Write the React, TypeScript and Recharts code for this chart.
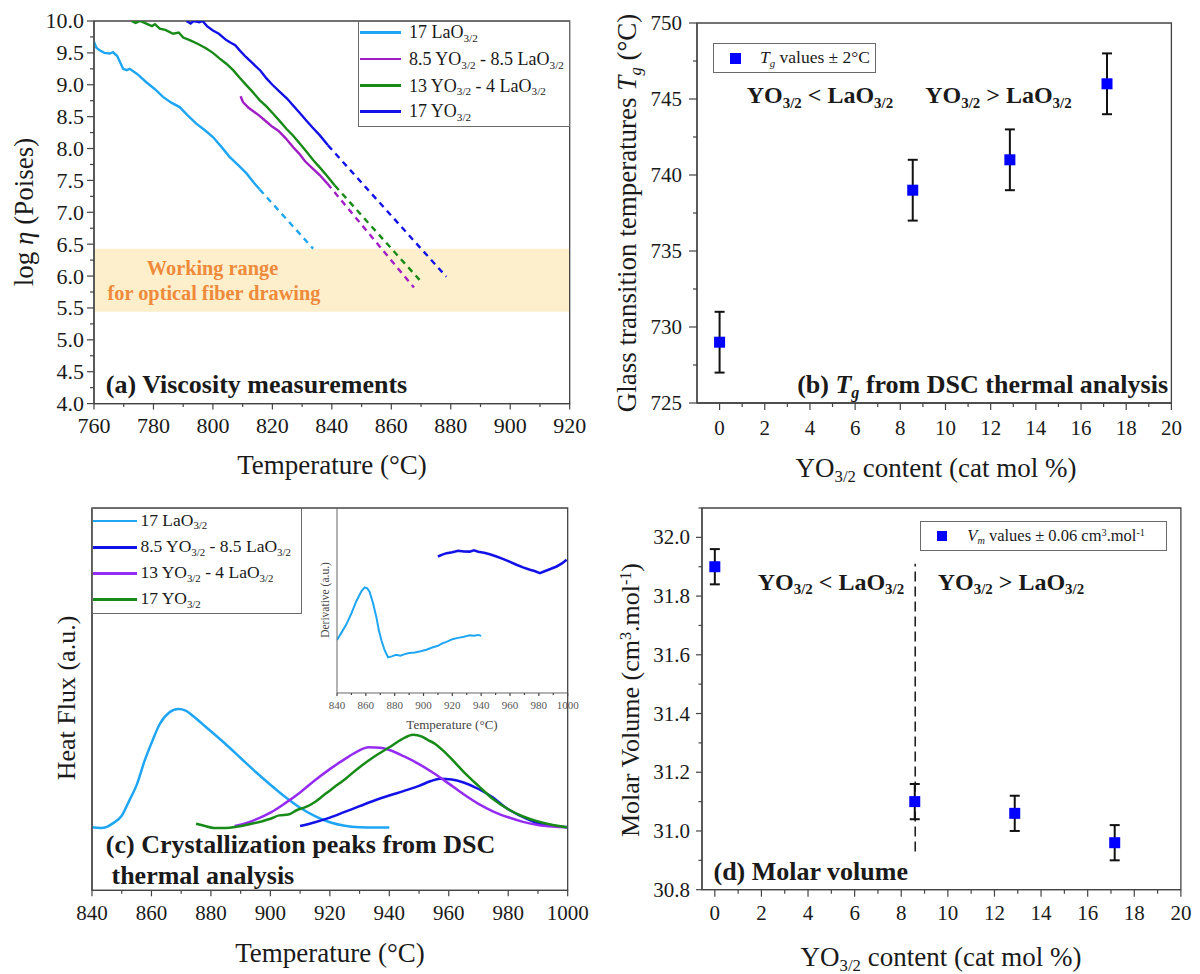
import React from 'react';
import { LineChart, Line, XAxis, YAxis, ReferenceArea, ReferenceLine, ScatterChart, Scatter, ErrorBar } from 'recharts';

const FONT = '"Liberation Serif", "Times New Roman", Times, serif';
const AX = '#444444';
const INK = '#1a1a1a';

// ---------- Panel (a) viscosity: [temperature °C, log eta]
const aLaSolid: [number, number][] = [[760, 9.67], [760.8, 9.58], [761.9, 9.54], [763.5, 9.5], [765.3, 9.49], [766.4, 9.51], [767.8, 9.45], [769.8, 9.25], [771, 9.23], [772, 9.25], [774.5, 9.17], [777.6, 9.04], [780.5, 8.93], [783.2, 8.81], [786, 8.72], [788.8, 8.65], [791.5, 8.52], [794.4, 8.39], [797.2, 8.29], [800, 8.18], [802.8, 8.03], [805.6, 7.87], [808.5, 7.74], [811.3, 7.61], [813.5, 7.48], [815.7, 7.36]];
const aLaDash: [number, number][] = [[815.7, 7.36], [833.7, 6.43]];
const aMixSolid: [number, number][] = [[809.3, 8.82], [810.1, 8.73], [812, 8.64], [815.5, 8.52], [818, 8.42], [820, 8.34], [822, 8.28], [824.5, 8.16], [827, 8.02], [829, 7.92], [831, 7.8], [833.5, 7.69], [836, 7.58], [838.5, 7.45]];
const aMixDash: [number, number][] = [[838.5, 7.45], [867.6, 5.82]];
const aY13Solid: [number, number][] = [[772.6, 10.0], [774, 9.97], [775.5, 10.0], [777.6, 9.96], [779.5, 9.92], [780.5, 9.95], [782.1, 9.88], [784, 9.86], [786.6, 9.8], [788.5, 9.82], [790, 9.74], [792.2, 9.7], [795, 9.64], [797.8, 9.57], [800, 9.5], [802.3, 9.41], [804.5, 9.33], [806.8, 9.23], [809, 9.11], [811.3, 8.99], [813.5, 8.88], [815.7, 8.76], [818, 8.66], [820.2, 8.55], [822.5, 8.43], [824.7, 8.31], [827, 8.2], [829.2, 8.08], [831.5, 7.95], [833.7, 7.82], [836, 7.7], [838.2, 7.58], [841, 7.42]];
const aY13Dash: [number, number][] = [[841, 7.42], [869.5, 5.94]];
const aY17Solid: [number, number][] = [[791.1, 10.0], [792.5, 9.96], [793.5, 10.0], [795.5, 9.98], [796.5, 10.0], [798, 9.92], [800, 9.85], [802, 9.8], [804.5, 9.7], [806, 9.66], [807.5, 9.62], [809, 9.54], [811, 9.44], [813.5, 9.33], [816, 9.22], [818, 9.1], [820, 9.0], [822.5, 8.89], [825, 8.78], [826.9, 8.68], [829, 8.57], [831.4, 8.44], [833.5, 8.33], [835.9, 8.21], [838.7, 8.05]];
const aY17Dash: [number, number][] = [[838.7, 8.05], [878.5, 5.99]];
const workingRange = [5.44, 6.43];
const aXTicks = [760, 770, 780, 790, 800, 810, 820, 830, 840, 850, 860, 870, 880, 890, 900, 910, 920];
const aXMajor = [760, 780, 800, 820, 840, 860, 880, 900, 920];
const aYTicks = [4, 4.25, 4.5, 4.75, 5, 5.25, 5.5, 5.75, 6, 6.25, 6.5, 6.75, 7, 7.25, 7.5, 7.75, 8, 8.25, 8.5, 8.75, 9, 9.25, 9.5, 9.75, 10];
const aYMajor = [4, 4.5, 5, 5.5, 6, 6.5, 7, 7.5, 8, 8.5, 9, 9.5, 10];

// ---------- Panel (b) Tg
const tgX = [0, 8.55, 12.85, 17.15];
const tgY = [729, 739, 741, 746];
const tgErr = [2, 2, 2, 2];
const bXTicks = [0, 1, 2, 3, 4, 5, 6, 7, 8, 9, 10, 11, 12, 13, 14, 15, 16, 17, 18, 19, 20];
const bXMajor = [0, 2, 4, 6, 8, 10, 12, 14, 16, 18, 20];
const bYTicks = [725, 727.5, 730, 732.5, 735, 737.5, 740, 742.5, 745, 747.5, 750];
const bYMajor = [725, 730, 735, 740, 745, 750];

// ---------- Panel (c) DSC heat flux (a.u.)
const cLa: [number, number][] = [[840, 16.5], [843, 16.3], [845, 16.6], [847, 17.5], [850, 19.5], [852.5, 23.4], [855, 27.5], [857.7, 33.9], [860, 38.5], [862.8, 43.5], [866, 46.5], [869, 47.4], [871.5, 47.0], [874, 45.6], [877, 43.6], [880, 41.6], [885, 38.2], [890, 34.6], [895, 31.0], [900, 27.6], [905, 24.4], [910, 21.6], [915, 19.4], [920, 17.8], [925, 16.9], [930, 16.5], [935, 16.4], [940, 16.4]];
const cMix: [number, number][] = [[910, 16.8], [915, 17.8], [920, 19.0], [925, 20.5], [930, 22.0], [935, 23.5], [940, 24.8], [945, 26.0], [950, 27.3], [954, 28.6], [957, 29.2], [961, 29.0], [965, 28.2], [970, 26.5], [975, 24.2], [979, 21.7], [984, 19.5], [989, 17.8], [994, 17.0], [1000, 16.5]];
const cY13: [number, number][] = [[888, 16.8], [892, 17.6], [896, 18.8], [900, 20.3], [905, 22.8], [910, 25.6], [915, 28.8], [920, 31.7], [925, 34.3], [929, 36.2], [933, 37.4], [937, 37.3], [940, 36.7], [945, 35.0], [950, 33.0], [955, 30.6], [960, 27.9], [965, 25.1], [970, 22.6], [975, 20.6], [980, 19.1], [985, 17.9], [990, 17.1], [995, 16.7], [1000, 16.5]];
const cY17: [number, number][] = [[875, 17.4], [878, 16.8], [881, 16.3], [885, 16.3], [889, 16.7], [893, 17.3], [897, 18.0], [900, 18.7], [903, 19.6], [906, 19.8], [909, 21.0], [912, 21.8], [915, 23.1], [918, 24.9], [921, 26.7], [925, 29.0], [930, 32.2], [935, 35.0], [940, 37.4], [944, 39.4], [948, 40.7], [951, 40.2], [953, 39.3], [955, 38.5], [958, 36.6], [961, 34.3], [965, 31.0], [970, 27.3], [975, 23.8], [980, 21.2], [985, 19.3], [990, 18.0], [995, 17.1], [1000, 16.5]];
const cXTicks = [840, 850, 860, 870, 880, 890, 900, 910, 920, 930, 940, 950, 960, 970, 980, 990, 1000];
const cXMajor = [840, 860, 880, 900, 920, 940, 960, 980, 1000];

// ---------- Inset derivative (a.u.)
const insLa: [number, number][] = [[840, 28.6], [843, 32.5], [846.5, 37.1], [850, 43.0], [853.4, 49.6], [856.9, 55.0], [859.2, 57.1], [861, 56.6], [862.7, 54.5], [865, 48.5], [867.3, 41.0], [869, 34.0], [870.8, 28.5], [873.1, 23.0], [875.4, 19.3], [878, 19.8], [881, 20.6], [884, 20.2], [887, 21.0], [890, 21.6], [894, 21.9], [898, 22.6], [902, 23.4], [906, 24.6], [910, 25.5], [913, 26.8], [916, 27.6], [920, 29.1], [924, 29.8], [928, 30.4], [932, 31.2], [935, 31.0], [938, 31.4], [940, 30.9]];
const insMix: [number, number][] = [[910, 73.8], [913, 74.8], [916, 75.6], [920, 76.1], [924, 76.9], [928, 76.5], [932, 76.4], [935, 77.1], [938, 76.4], [942, 75.8], [946, 75.0], [950.6, 73.8], [955, 72.5], [960, 70.9], [964.5, 69.3], [969, 67.9], [973.8, 66.6], [977, 65.9], [980.7, 64.8], [984, 65.8], [988, 67.0], [992.3, 68.4], [996, 70.0], [999.3, 72.0]];
const insXTicks = [840, 850, 860, 870, 880, 890, 900, 910, 920, 930, 940, 950, 960, 970, 980, 990, 1000];
const insXMajor = [840, 860, 880, 900, 920, 940, 960, 980, 1000];

// ---------- Panel (d) molar volume
const vmX = [0, 8.58, 12.87, 17.16];
const vmY = [31.9, 31.1, 31.06, 30.96];
const vmErr = [0.06, 0.06, 0.06, 0.06];
const dividerX = 8.6;
const dividerY = [30.93, 31.91];
const dXTicks = [0, 1, 2, 3, 4, 5, 6, 7, 8, 9, 10, 11, 12, 13, 14, 15, 16, 17, 18, 19, 20];
const dXMajor = [0, 2, 4, 6, 8, 10, 12, 14, 16, 18, 20];
const dYTicks = [30.8, 30.9, 31.0, 31.1, 31.2, 31.3, 31.4, 31.5, 31.6, 31.7, 31.8, 31.9, 32.0, 32.1];
const dYMajor = [30.8, 31.0, 31.2, 31.4, 31.6, 31.8, 32.0];

// colours
const C_LA = '#1EA6F4';
const C_PURPLE_A = '#A11EC6';
const C_GREEN = '#178A17';
const C_BLUE = '#1212E8';
const C_VIOLET = '#952CF2';
const C_MARK = '#0000FF';

const pts = (a: [number, number][]) => a.map(([t, v]) => ({ t, v }));
const scat = (xs: number[], ys: number[], es: number[]) => xs.map((x, i) => ({ x, y: ys[i], err: es[i] }));

const isIn = (arr: number[], v: number) => arr.some((m) => Math.abs(m - v) < 1e-6);

type TickOpts = { majors: number[]; fmt: (v: number) => string; fs: number; off: number; major: number; minor: number; color?: string };
const makeXTick = (o: TickOpts) => (p: any) => {
  const v = Number(p.payload.value);
  const mj = isIn(o.majors, v);
  return (
    <g>
      <line x1={p.x} x2={p.x} y1={p.y} y2={p.y + (mj ? o.major : o.minor)} stroke={AX} strokeWidth={1.2} />
      {mj && (
        <text x={p.x} y={p.y + o.off} textAnchor="middle" dominantBaseline="central" fontFamily="Liberation Serif" fontSize={o.fs} style={{ fontFamily: FONT, fontSize: o.fs }} fill={o.color ?? INK}>
          {o.fmt(v)}
        </text>
      )}
    </g>
  );
};
const makeYTick = (o: TickOpts) => (p: any) => {
  const v = Number(p.payload.value);
  const mj = isIn(o.majors, v);
  return (
    <g>
      <line x1={p.x - (mj ? o.major : o.minor)} x2={p.x} y1={p.y} y2={p.y} stroke={AX} strokeWidth={1.2} />
      {mj && (
        <text x={p.x - o.off} y={p.y} textAnchor="end" dominantBaseline="central" fontFamily="Liberation Serif" fontSize={o.fs} style={{ fontFamily: FONT, fontSize: o.fs }} fill={o.color ?? INK}>
          {o.fmt(v)}
        </text>
      )}
    </g>
  );
};

const frame = (pl: number, pt: number, pr: number, pb: number, pad: { l: number; t: number; r: number; b: number }) => ({
  style: { position: 'absolute' as const, left: pl - pad.l, top: pt - pad.t, fontFamily: FONT },
  w: pr - pl + pad.l + pad.r,
  h: pb - pt + pad.t + pad.b,
  margin: { top: pad.t, right: pad.r, bottom: 0, left: 0 },
  yw: pad.l,
  xh: pad.b,
});

const Txt = ({ x, y, children, size = 22, bold = false, color = INK, anchor = 'start', rot = false }: any) => {
  const tx = anchor === 'middle' ? '-50%' : anchor === 'end' ? '-100%' : '0';
  const transform = rot ? 'translate(-50%,-50%) rotate(-90deg)' : `translate(${tx},-50%)`;
  return (
    <div style={{ position: 'absolute', left: x, top: y, transform, fontFamily: FONT, fontSize: size, fontWeight: bold ? 700 : 400, color, whiteSpace: 'nowrap', lineHeight: 1 }}>
      {children}
    </div>
  );
};
const Sub = ({ children }: any) => <span style={{ fontSize: '0.62em', position: 'relative', top: '0.32em' }}>{children}</span>;
const Sup = ({ children }: any) => <span style={{ fontSize: '0.62em', position: 'relative', top: '-0.48em' }}>{children}</span>;

const Box = ({ l, t, r, b }: any) => (
  <div style={{ position: 'absolute', left: l, top: t, width: r - l, height: b - t, border: '1.2px solid #6a6a6a', background: '#fff', boxSizing: 'border-box' }} />
);
const LegLine = ({ x0, x1, y, color }: any) => (
  <div style={{ position: 'absolute', left: x0, top: y - 1.4, width: x1 - x0, height: 2.8, background: color }} />
);
const Mark = ({ x, y, s = 11 }: any) => <div style={{ position: 'absolute', left: x - s / 2, top: y - s / 2, width: s, height: s, background: C_MARK }} />;

const YL = () => (<>YO<Sub>3/2</Sub></>);
const LL = () => (<>LaO<Sub>3/2</Sub></>);

const axisLine = { stroke: AX, strokeWidth: 1.3 };
const square = (p: any) => <rect x={p.cx - 5.5} y={p.cy - 5.5} width={11} height={11} fill={C_MARK} />;
const chartStyle = { fontFamily: FONT };

export default function App() {
  const PAD = { l: 64, t: 16, r: 28, b: 42 };
  const A = frame(94.3, 20.7, 570, 403.3, PAD);
  const B = frame(697.3, 23.3, 1171.7, 403.3, PAD);
  const Cc = frame(92.3, 507.7, 568, 890, { l: 30, t: 16, r: 28, b: 42 });
  const I = frame(337.3, 507.7, 568, 692.7, { l: 16, t: 2, r: 18, b: 22 });
  const D = frame(701.9, 508.3, 1180.8, 890, { l: 64, t: 16, r: 16, b: 42 });

  const fmt1 = (v: number) => v.toFixed(1);
  const fmt0 = (v: number) => String(Math.round(v));

  const aLines: { d: [number, number][]; c: string; dash?: boolean }[] = [
    { d: aLaSolid, c: C_LA }, { d: aLaDash, c: C_LA, dash: true },
    { d: aMixSolid, c: C_PURPLE_A }, { d: aMixDash, c: C_PURPLE_A, dash: true },
    { d: aY13Solid, c: C_GREEN }, { d: aY13Dash, c: C_GREEN, dash: true },
    { d: aY17Solid, c: C_BLUE }, { d: aY17Dash, c: C_BLUE, dash: true },
  ];
  const cLines: { d: [number, number][]; c: string }[] = [
    { d: cLa, c: C_LA }, { d: cMix, c: C_BLUE }, { d: cY13, c: C_VIOLET }, { d: cY17, c: C_GREEN },
  ];

  return (
    <div style={{ position: 'absolute', left: 0, top: 0, width: 1200, height: 974, background: '#fff', overflow: 'hidden', fontFamily: FONT }}>
      {/* ---------- (a) ---------- */}
      <div style={A.style}>
        <LineChart width={A.w} height={A.h} margin={A.margin} style={chartStyle}>
          <XAxis type="number" dataKey="t" domain={[760, 920]} allowDataOverflow ticks={aXTicks} interval={0} tickSize={0} tickMargin={0} tickLine={false} axisLine={axisLine} height={A.xh}
            tick={makeXTick({ majors: aXMajor, fmt: fmt0, fs: 22, off: 22, major: 6, minor: 3.5 })} />
          <YAxis type="number" domain={[4, 10]} allowDataOverflow ticks={aYTicks} interval={0} tickSize={0} tickMargin={0} tickLine={false} axisLine={axisLine} width={A.yw}
            tick={makeYTick({ majors: aYMajor, fmt: fmt1, fs: 22, off: 10, major: 7, minor: 4 })} />
          <ReferenceArea x1={760} x2={920} y1={workingRange[0]} y2={workingRange[1]} fill="#FDEFCB" fillOpacity={1} stroke="none" />
          <ReferenceArea x1={760} x2={920} y1={4} y2={10} fill="none" stroke={AX} strokeWidth={1.3} />
          {aLines.map((l, i) => (
            <Line key={i} data={pts(l.d)} dataKey="v" type="linear" stroke={l.c} strokeWidth={2.4} strokeDasharray={l.dash ? '6 5' : undefined} dot={false} activeDot={false} isAnimationActive={false} />
          ))}
        </LineChart>
      </div>
      <Txt x={23.8} y={211.7} size={27} rot>log <i>η</i> (Poises)</Txt>
      <Txt x={332} y={465} size={27} anchor="middle">Temperature (°C)</Txt>
      <Txt x={105.8} y={385} size={26} bold>(a) Viscosity measurements</Txt>
      <Txt x={212.5} y={268.3} size={20.3} bold color="#EF8A3B" anchor="middle">Working range</Txt>
      <Txt x={214} y={293.3} size={20.3} bold color="#EF8A3B" anchor="middle">for optical fiber drawing</Txt>
      <Box l={357.7} t={20.7} r={570} b={127.3} />
      <LegLine x0={360} x1={401} y={32.3} color={C_LA} />
      <LegLine x0={360} x1={401} y={59} color={C_PURPLE_A} />
      <LegLine x0={360} x1={401} y={85.7} color={C_GREEN} />
      <LegLine x0={360} x1={401} y={111.3} color={C_BLUE} />
      <Txt x={409} y={32.3} size={18}>17 <LL /></Txt>
      <Txt x={409} y={59} size={18}>8.5 <YL /> - 8.5 <LL /></Txt>
      <Txt x={409} y={85.7} size={18}>13 <YL /> - 4 <LL /></Txt>
      <Txt x={409} y={111.3} size={18}>17 <YL /></Txt>

      {/* ---------- (b) ---------- */}
      <div style={B.style}>
        <ScatterChart width={B.w} height={B.h} margin={B.margin} style={chartStyle}>
          <XAxis type="number" dataKey="x" domain={[-1, 20]} allowDataOverflow ticks={bXTicks} interval={0} tickSize={0} tickMargin={0} tickLine={false} axisLine={axisLine} height={B.xh}
            tick={makeXTick({ majors: bXMajor, fmt: fmt0, fs: 21, off: 25, major: 7, minor: 4 })} />
          <YAxis type="number" dataKey="y" domain={[725, 750]} allowDataOverflow ticks={bYTicks} interval={0} tickSize={0} tickMargin={0} tickLine={false} axisLine={axisLine} width={B.yw}
            tick={makeYTick({ majors: bYMajor, fmt: fmt0, fs: 21, off: 15, major: 8, minor: 4 })} />
          <ReferenceArea x1={-1} x2={20} y1={725} y2={750} fill="none" stroke={AX} strokeWidth={1.3} />
          <Scatter data={scat(tgX, tgY, tgErr)} shape={square} isAnimationActive={false}>
            <ErrorBar dataKey="err" direction="y" width={5} stroke="#111" strokeWidth={2} />
          </Scatter>
        </ScatterChart>
      </div>
      <Txt x={627} y={213} size={27} rot>Glass transition temperatures <i>T</i><Sub><i>g</i></Sub> (°C)</Txt>
      <Txt x={936} y={468} size={27} anchor="middle"><YL /> content (cat mol %)</Txt>
      <Box l={713} t={43.3} r={876} b={73.3} />
      <Mark x={735} y={58.3} />
      <Txt x={760} y={58.3} size={17.5}><i>T</i><Sub><i>g</i></Sub> values ± 2°C</Txt>
      <Txt x={746.7} y={95} size={24} bold><YL /> &lt; <LL /></Txt>
      <Txt x={925.2} y={95} size={24} bold><YL /> &gt; <LL /></Txt>
      <Txt x={1168} y={385} size={26} bold anchor="end">(b) <i>T</i><Sub><i>g</i></Sub> from DSC thermal analysis</Txt>

      {/* ---------- (c) ---------- */}
      <div style={Cc.style}>
        <LineChart width={Cc.w} height={Cc.h} margin={Cc.margin} style={chartStyle}>
          <XAxis type="number" dataKey="t" domain={[840, 1000]} allowDataOverflow ticks={cXTicks} interval={0} tickSize={0} tickMargin={0} tickLine={false} axisLine={axisLine} height={Cc.xh}
            tick={makeXTick({ majors: cXMajor, fmt: fmt0, fs: 21, off: 23, major: 6, minor: 3.5 })} />
          <YAxis type="number" domain={[0, 100]} allowDataOverflow tick={false} tickLine={false} axisLine={axisLine} width={Cc.yw} />
          <ReferenceArea x1={840} x2={1000} y1={0} y2={100} fill="none" stroke={AX} strokeWidth={1.3} />
          {cLines.map((l, i) => (
            <Line key={i} data={pts(l.d)} dataKey="v" type="monotone" stroke={l.c} strokeWidth={2.5} dot={false} activeDot={false} isAnimationActive={false} />
          ))}
        </LineChart>
      </div>
      <div style={I.style}>
        <LineChart width={I.w} height={I.h} margin={I.margin} style={chartStyle}>
          <XAxis type="number" dataKey="t" domain={[840, 1000]} allowDataOverflow ticks={insXTicks} interval={0} tickSize={0} tickMargin={0} tickLine={false} axisLine={{ stroke: '#666', strokeWidth: 1 }} height={I.xh}
            tick={makeXTick({ majors: insXMajor, fmt: fmt0, fs: 11, off: 12.5, major: 3, minor: 2, color: '#555' })} />
          <YAxis type="number" domain={[0, 100]} allowDataOverflow tick={false} tickLine={false} axisLine={{ stroke: '#666', strokeWidth: 1 }} width={I.yw} />
          <Line data={pts(insLa)} dataKey="v" type="linear" stroke={C_LA} strokeWidth={2} dot={false} activeDot={false} isAnimationActive={false} />
          <Line data={pts(insMix)} dataKey="v" type="linear" stroke={C_BLUE} strokeWidth={2.6} dot={false} activeDot={false} isAnimationActive={false} />
        </LineChart>
      </div>
      <Txt x={326} y={600} size={11.5} color="#444" rot>Derivative (a.u.)</Txt>
      <Txt x={452} y={724.3} size={13} color="#444" anchor="middle">Temperature (°C)</Txt>
      <Txt x={67.3} y={698} size={26} rot>Heat Flux (a.u.)</Txt>
      <Txt x={330} y={953.3} size={27} anchor="middle">Temperature (°C)</Txt>
      <Box l={92.3} t={507.7} r={302} b={614.3} />
      <LegLine x0={93} x1={137} y={521} color={C_LA} />
      <LegLine x0={93} x1={137} y={547.3} color={C_BLUE} />
      <LegLine x0={93} x1={137} y={573.3} color={C_VIOLET} />
      <LegLine x0={93} x1={137} y={599.3} color={C_GREEN} />
      <Txt x={140.4} y={521} size={17.5}>17 <LL /></Txt>
      <Txt x={140.4} y={547.3} size={17.5}>8.5 <YL /> - 8.5 <LL /></Txt>
      <Txt x={140.4} y={573.3} size={17.5}>13 <YL /> - 4 <LL /></Txt>
      <Txt x={140.4} y={599.3} size={17.5}>17 <YL /></Txt>
      <Txt x={105.8} y={845} size={26} bold>(c) Crystallization peaks from DSC</Txt>
      <Txt x={111.5} y={876} size={26} bold>thermal analysis</Txt>

      {/* ---------- (d) ---------- */}
      <div style={D.style}>
        <ScatterChart width={D.w} height={D.h} margin={D.margin} style={chartStyle}>
          <XAxis type="number" dataKey="x" domain={[-0.55, 20]} allowDataOverflow ticks={dXTicks} interval={0} tickSize={0} tickMargin={0} tickLine={false} axisLine={axisLine} height={D.xh}
            tick={makeXTick({ majors: dXMajor, fmt: fmt0, fs: 21, off: 23, major: 7, minor: 4 })} />
          <YAxis type="number" dataKey="y" domain={[30.8, 32.1]} allowDataOverflow ticks={dYTicks} interval={0} tickSize={0} tickMargin={0} tickLine={false} axisLine={axisLine} width={D.yw}
            tick={makeYTick({ majors: dYMajor, fmt: fmt1, fs: 21, off: 12, major: 6, minor: 3.5 })} />
          <ReferenceArea x1={-0.55} x2={20} y1={30.8} y2={32.1} fill="none" stroke={AX} strokeWidth={1.3} />
          <ReferenceLine segment={[{ x: dividerX, y: dividerY[0] }, { x: dividerX, y: dividerY[1] }]} stroke="#222" strokeWidth={1.6} strokeDasharray="10 5" />
          <Scatter data={scat(vmX, vmY, vmErr)} shape={square} isAnimationActive={false}>
            <ErrorBar dataKey="err" direction="y" width={5} stroke="#111" strokeWidth={2} />
          </Scatter>
        </ScatterChart>
      </div>
      <Txt x={630.8} y={700} size={26} rot>Molar Volume (cm<Sup>3</Sup>.mol<Sup>-1</Sup>)</Txt>
      <Txt x={941} y={956.7} size={27} anchor="middle"><YL /> content (cat mol %)</Txt>
      <Box l={920.4} t={520.7} r={1167.3} b={551} />
      <Mark x={942.3} y={535.8} s={10} />
      <Txt x={967.3} y={535.8} size={16.5}><i>V</i><Sub><i>m</i></Sub> values ± 0.06 cm<Sup>3</Sup>.mol<Sup>-1</Sup></Txt>
      <Txt x={757.7} y={581.7} size={24} bold><YL /> &lt; <LL /></Txt>
      <Txt x={937.7} y={581.7} size={24} bold><YL /> &gt; <LL /></Txt>
      <Txt x={713.5} y={871.7} size={26} bold>(d) Molar volume</Txt>
    </div>
  );
}
